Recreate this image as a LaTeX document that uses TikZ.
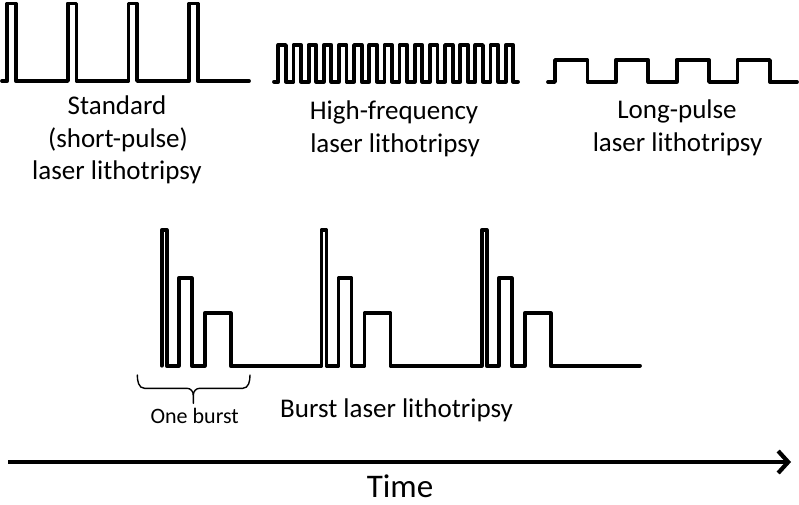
\documentclass[tikz,border=0pt]{standalone}
\usepackage{fontspec}
\setmainfont{Carlito}
\usetikzlibrary{arrows.meta}
\begin{document}
\begin{tikzpicture}[x=1pt,y=-1pt,
  wave/.style={line width=3.8pt,line join=round,line cap=round},
  lbl/.style={font=\fontsize{27}{32}\selectfont,anchor=base,inner sep=0pt},
  small/.style={font=\fontsize{22}{26}\selectfont,anchor=base,inner sep=0pt},
  bracestyle/.style={line width=1.4pt,line cap=round,line join=round},
  timeaxis/.style={line width=4.2pt,-{Straight Barb[length=10pt,width=22pt]}}]
\useasboundingbox (0,0) rectangle (799,504);
% standard short-pulse train
\draw[wave] (2,81) \foreach \x in {7.3,67.9,128.5,189.1} { -- (\x,81) -- (\x,3.5) -- (\x+8.5,3.5) -- (\x+8.5,81) } -- (249,81);
% high-frequency train
\draw[wave] (274,81.7) \foreach \k in {0,...,15} { -- (278.3+15.16*\k,81.7) -- (278.3+15.16*\k,45) -- (285.9+15.16*\k,45) -- (285.9+15.16*\k,81.7) } -- (518,81.7);
% long-pulse train
\draw[wave] (548,82) \foreach \k in {0,...,3} { -- (555+60.8*\k,82) -- (555+60.8*\k,60) -- (587.5+60.8*\k,60) -- (587.5+60.8*\k,82) } -- (797,82);
% burst train
\draw[wave] (161.7,365.7) \foreach \x in {161.7,321.4,481.7} { -- (\x,365.7) -- (\x,230) -- (\x+5,230) -- (\x+5,365.7) -- (\x+17,365.7) -- (\x+17,278.3) -- (\x+30,278.3) -- (\x+30,365.7) -- (\x+43,365.7) -- (\x+43,313.3) -- (\x+69,313.3) -- (\x+69,365.7) } -- (640,365.7);
% labels
\node[lbl] (s1) at (117,114.7) {Standard};
\node[lbl] (s2) at (118,147) {(short-pulse)};
\node[lbl] (s3) at (117,179.5) {laser lithotripsy};
\node[lbl] (h1) at (394,119.3) {High-frequency};
\node[lbl] (h2) at (395,152) {laser lithotripsy};
\node[lbl] (l1) at (677,118.7) {Long-pulse};
\node[lbl] (l2) at (677.5,151.3) {laser lithotripsy};
\node[lbl,anchor=base west] (b1) at (280,417.3) {Burst laser lithotripsy};
\node[small] (ob) at (194.7,423.3) {One burst};
% brace
\draw[bracestyle] (137.3,375) to[out=-90,in=180] (144.5,388.3) -- (187,388.3)
  to[out=0,in=90] (193.3,395) -- (193.3,403.3);
\draw[bracestyle] (250,375) to[out=-90,in=0] (242.8,388.3) -- (199.6,388.3)
  to[out=180,in=90] (193.3,395);
% time axis
\coordinate (t0) at (8,462);
\coordinate (t1) at (791,462);
\draw[timeaxis] (t0) -- (t1);
\node[font=\fontsize{33}{40}\selectfont,anchor=base,inner sep=0pt] (time) at (400,497) {Time};
\end{tikzpicture}
\end{document}
